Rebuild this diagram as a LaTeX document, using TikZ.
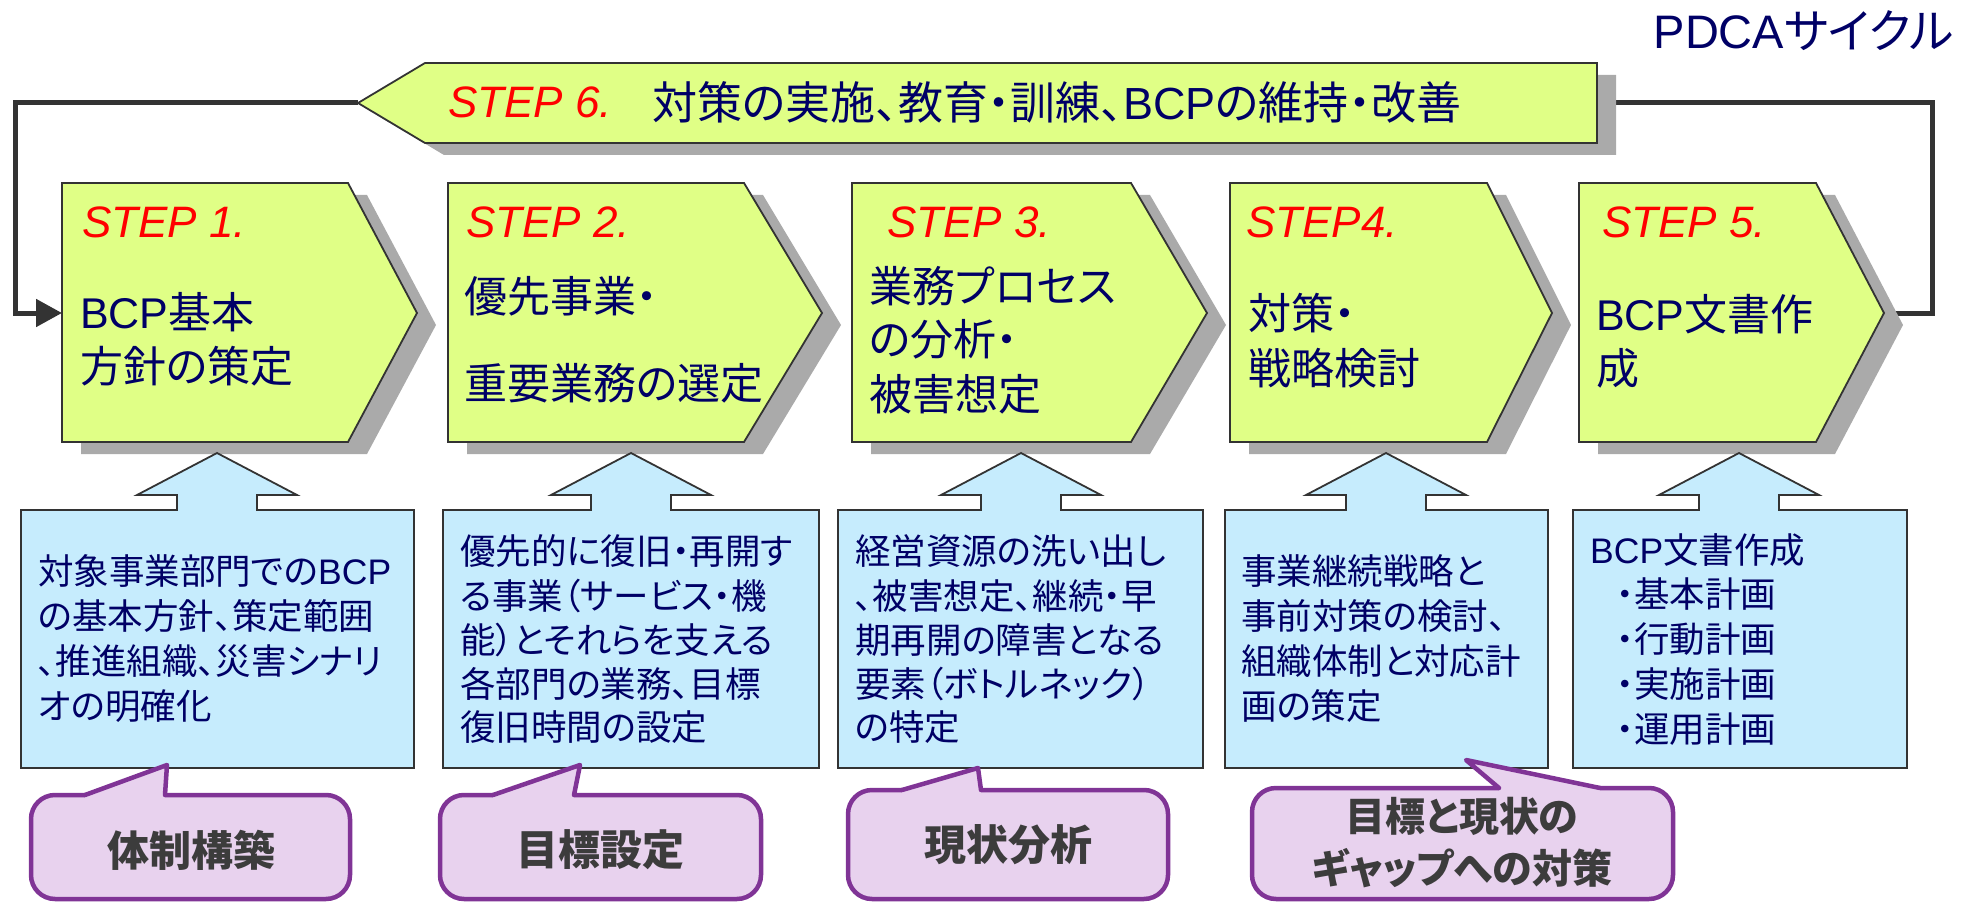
\documentclass[tikz,border=0pt]{standalone}
\usepackage{fontspec}
\setmainfont{Noto Sans CJK JP}[RawFeature=+palt]
\newfontfamily\lat{Liberation Sans}
\usetikzlibrary{arrows.meta}
\definecolor{stepfill}{RGB}{224,255,134}
\definecolor{bluefill}{RGB}{198,236,253}
\definecolor{calfill}{RGB}{232,210,238}
\definecolor{calline}{RGB}{128,52,150}
\definecolor{shadowgray}{RGB}{170,170,170}
\definecolor{edgegray}{RGB}{51,51,51}
\definecolor{textnavy}{RGB}{0,0,102}
\definecolor{stepred}{RGB}{255,0,0}
\definecolor{calltext}{RGB}{60,60,60}
\tikzset{
 stepbox/.style={fill=stepfill, draw=edgegray, line width=1.8pt, line join=miter},
 bluebox/.style={fill=bluefill, draw=edgegray, line width=1.8pt},
 calloutbox/.style={fill=calfill, draw=calline, line width=4.5pt, rounded corners=24pt},
 pointerline/.style={draw=calline, line width=4.5pt, line join=round, line cap=round},
 loopline/.style={draw=edgegray, line width=5pt},
 steplabel/.style={text=stepred, font=\lat\itshape\fontsize{44}{50}\selectfont, anchor=base west, inner sep=0pt},
 steptext/.style={text=textnavy, font=\fontsize{43}{55}\selectfont, anchor=base west, inner sep=0pt},
 boxtext/.style={text=textnavy, font=\fontsize{35.5}{45}\selectfont, anchor=base west, inner sep=0pt},
 calltxt/.style={text=calltext, font=\bfseries\fontsize{42}{52}\selectfont, inner sep=0pt, align=center},
}
% step shape: left x, corner x, point x
\newcommand\stepshape[3]{%
  \fill[shadowgray] (#1+19,195) -- (#2+19,195) -- (#3+19,325) -- (#2+19,454) -- (#1+19,454) -- cycle;
  \draw[stepbox] (#1,183) -- (#2,183) -- (#3,313) -- (#2,442) -- (#1,442) -- cycle;}
% blue box with up arrow: arrow centre x, box left, box right
\newcommand\arrowbox[3]{%
  \draw[bluebox] (#2,510) -- (#1-40,510) -- (#1-40,495) -- (#1-80,495) -- (#1,453) -- (#1+80,495) -- (#1+40,495) -- (#1+40,510) -- (#3,510) -- (#3,768) -- (#2,768) -- cycle;}
% callout: left, right, top, base1, tipx, tipy, base2
\newcommand\callout[7]{%
  \draw[calloutbox] (#1,#3) rectangle (#2,899);
  \fill[calfill] (#4,#3) -- (#5,#6) -- (#7,#3) -- (#7,#3+4) -- (#4,#3+4) -- cycle;
  \draw[pointerline] (#4,#3) -- (#5,#6) -- (#7,#3);}
\begin{document}
\begin{tikzpicture}[x=1pt,y=-1pt]
\useasboundingbox (0,0) rectangle (1972,904);
% named connection points
\coordinate (b6w) at (358,103);
\coordinate (b6e) at (1597,103);
\coordinate (s1w) at (62,313);
\coordinate (s5e) at (1884,313);
\coordinate (lk) at (15,313);
\coordinate (rk) at (1932,313);
% loop connectors
\draw[loopline, -{Triangle[length=26pt,width=27pt]}] (b6w) -| (lk) -- (s1w);
\draw[loopline] (b6e) -| (rk) -- (s5e);
% banner STEP 6
\fill[shadowgray] (377,115) -- (444,75) -- (1616,75) -- (1616,155) -- (444,155) -- cycle;
\draw[stepbox] (b6w) -- (425,63) -- (1597,63) -- (1597,143) -- (425,143) -- cycle;
% steps
\stepshape{62}{348}{417}
\stepshape{448}{744}{822}
\stepshape{852}{1131}{1207}
\stepshape{1230}{1487}{1552}
\stepshape{1579}{1816}{1884}
% title
\node[text=textnavy, font=\fontsize{47}{55}\selectfont, anchor=base east, inner sep=0pt] (pdca) at (1954,49) {{\lat PDCA}サイクル};
% banner text
\node[steplabel] (l6) at (448,118) {STEP 6.};
\node[steptext, font=\fontsize{45}{55}\selectfont] (m6) at (652,120) {対策の実施、教育・訓練、{\lat BCP}の維持・改善};
% step labels
\node[steplabel] (l1) at (82,237) {STEP 1.};
\node[steplabel] (l2) at (466,237) {STEP 2.};
\node[steplabel] (l3) at (887,237) {STEP 3.};
\node[steplabel] (l4) at (1246,237) {STEP4.};
\node[steplabel] (l5) at (1602,237) {STEP 5.};
% step texts
\node[steptext] (m1a) at (80,328) {{\lat BCP}基本};
\node[steptext] (m1b) at (80,382) {方針の策定};
\node[steptext] (m2a) at (464,312) {優先事業・};
\node[steptext] (m2b) at (464,399) {重要業務の選定};
\node[steptext] (m3a) at (869,302) {業務プロセス};
\node[steptext] (m3b) at (869,355) {の分析・};
\node[steptext] (m3c) at (869,410) {被害想定};
\node[steptext] (m4a) at (1248,329) {対策・};
\node[steptext] (m4b) at (1248,384) {戦略検討};
\node[steptext] (m5a) at (1596,330) {{\lat BCP}文書作};
\node[steptext] (m5b) at (1596,384) {成};
% blue boxes with arrows
\arrowbox{217}{21}{414}
\arrowbox{631}{443}{819}
\arrowbox{1021}{838}{1203}
\arrowbox{1386}{1225}{1548}
\arrowbox{1739}{1573}{1907}
% box texts
\node[boxtext] (x1a) at (38,584) {対象事業部門での{\lat BCP}};
\node[boxtext] (x1b) at (38,629) {の基本方針、策定範囲};
\node[boxtext] (x1c) at (38,674) {、推進組織、災害シナリ};
\node[boxtext] (x1d) at (38,719) {オの明確化};
\node[boxtext] (x2a) at (460,564) {優先的に復旧・再開す};
\node[boxtext] (x2b) at (460,609) {る事業（サービス・機};
\node[boxtext] (x2c) at (460,653) {能）とそれらを支える};
\node[boxtext] (x2d) at (460,697) {各部門の業務、目標};
\node[boxtext] (x2e) at (460,740) {復旧時間の設定};
\node[boxtext] (x3a) at (855,564) {経営資源の洗い出し};
\node[boxtext] (x3b) at (855,609) {、被害想定、継続・早};
\node[boxtext] (x3c) at (855,653) {期再開の障害となる};
\node[boxtext] (x3d) at (855,697) {要素（ボトルネック）};
\node[boxtext] (x3e) at (855,740) {の特定};
\node[boxtext] (x4a) at (1241,584) {事業継続戦略と};
\node[boxtext] (x4b) at (1241,629) {事前対策の検討、};
\node[boxtext] (x4c) at (1241,674) {組織体制と対応計};
\node[boxtext] (x4d) at (1241,719) {画の策定};
\node[boxtext] (x5a) at (1590,563) {{\lat BCP}文書作成};
\node[boxtext] (x5b) at (1590,607) {\hspace{26pt}・基本計画};
\node[boxtext] (x5c) at (1590,652) {\hspace{26pt}・行動計画};
\node[boxtext] (x5d) at (1590,697) {\hspace{26pt}・実施計画};
\node[boxtext] (x5e) at (1590,742) {\hspace{26pt}・運用計画};
% callouts
\callout{31}{350}{795}{85}{167}{765}{165}
\callout{440}{761}{795}{493}{580}{765}{574}
\callout{848}{1168}{790}{902}{978}{768}{981}
\callout{1252}{1673}{788}{1499}{1466}{760}{1600}
\node[calltxt] (c1t) at (191,850) {体制構築};
\node[calltxt] (c2t) at (600,850) {目標設定};
\node[calltxt] (c3t) at (1008,845) {現状分析};
\node[calltxt, font=\bfseries\fontsize{40}{52}\selectfont] (c4t) at (1462,843) {目標と現状の\\ギャップへの対策};
\end{tikzpicture}
\end{document}
